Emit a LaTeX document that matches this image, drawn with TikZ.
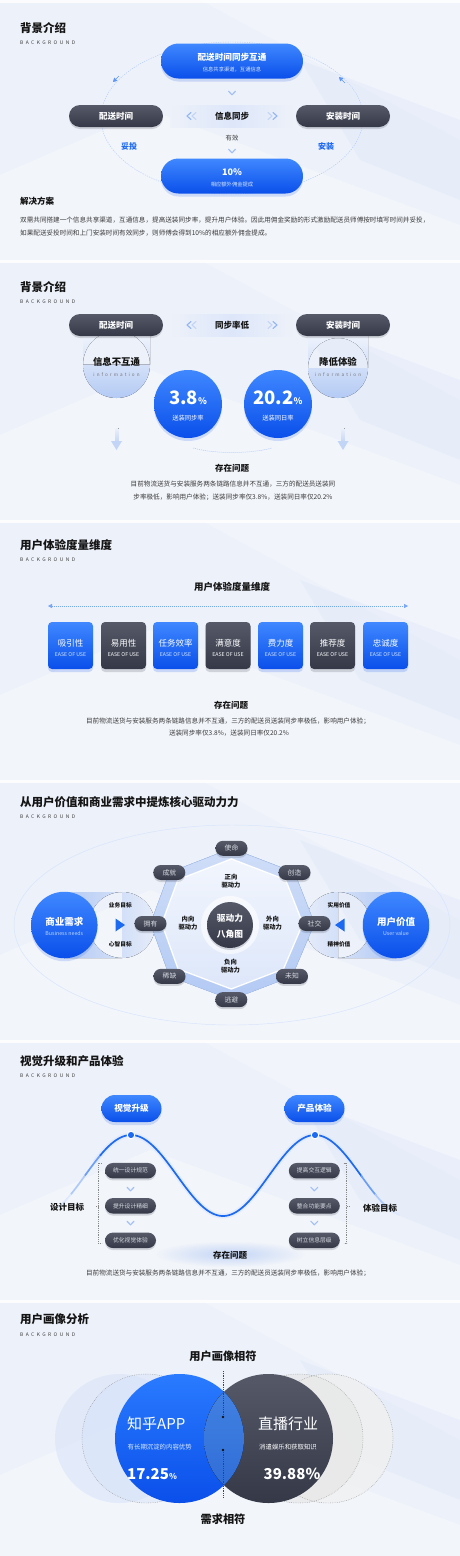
\documentclass[tikz,border=0pt]{standalone}
\usepackage{fontspec}
\setmainfont{Noto Sans CJK SC}
\usetikzlibrary{arrows.meta,shadows,calc,fadings}
\tikzfading[name=myglow, inner color=transparent!0, outer color=transparent!100]
\definecolor{bgc}{HTML}{EDF1F9}
\definecolor{bgw}{HTML}{F4F7FD}
\definecolor{blueA}{HTML}{3F88FF}
\definecolor{blueB}{HTML}{0A4FEA}
\definecolor{blueC}{HTML}{2A7BFF}
\definecolor{darkA}{HTML}{555968}
\definecolor{darkB}{HTML}{343847}
\definecolor{lightb}{HTML}{C3D5F6}
\definecolor{tabb}{HTML}{B3CAF4}
\definecolor{paleb}{HTML}{DDE7FA}
\definecolor{txt}{HTML}{141414}
\definecolor{gtxt}{HTML}{3A3A3A}
\definecolor{accent}{HTML}{1C69F2}
\definecolor{pilltxt}{HTML}{D8DBE3}
\definecolor{midA}{HTML}{4585E3}
\definecolor{midB}{HTML}{2D6AD6}
\newcommand\myfs[1]{\fontsize{#1}{#1}\selectfont}
\newcommand\mysectbg{%
  \fill[white,opacity=0.3] (0,175) -- (150,110) -- (460,225) -- (460,262) -- (0,262) -- cycle;
  \fill[white,opacity=0.25] (200,0) -- (460,0) -- (460,140) -- cycle;
  \fill[paleb,opacity=0.4] (300,60) -- (460,120) -- (460,200) -- (360,160) -- cycle;
  \fill[white,opacity=0.85] (0,0) rectangle (460,3);
}
\tikzset{
  bluepill/.style={rectangle, rounded corners=#1, top color=blueA, bottom color=blueB, draw=none, inner sep=0pt,
    drop shadow={opacity=0.16, shadow xshift=0pt, shadow yshift=-3pt, fill=blueB}},
  bluepill/.default=10,
  darkpill/.style={rectangle, rounded corners=#1, top color=darkA, bottom color=darkB, draw=none, inner sep=0pt,
    drop shadow={opacity=0.18, shadow xshift=0pt, shadow yshift=-2pt, fill=darkB}},
  darkpill/.default=8,
  bluedisc/.style={circle, top color=blueA, bottom color=blueB, draw=none, inner sep=0pt,
    drop shadow={opacity=0.16, shadow xshift=0pt, shadow yshift=-3pt, fill=blueB}},
  sTtl/.style={anchor=west, inner sep=0pt, text=txt, font=\myfs{11.5}\bfseries},
  sBg/.style={anchor=west, inner sep=0pt, text=gtxt, font=\myfs{4.9}\addfontfeatures{LetterSpace=50}},
  wtxt/.style={inner sep=0pt, text=white},
  sPara/.style={inner sep=0pt, text=gtxt, font=\myfs{6.6}},
  sHead/.style={inner sep=0pt, text=txt, font=\myfs{8.5}\bfseries},
  sLbl/.style={inner sep=0pt, text=txt, font=\myfs{5.7}\bfseries},
  sTwo/.style={inner sep=0pt, text=txt, align=center, font=\fontsize{6.3}{7.8}\selectfont\bfseries},
  downchev/.pic={\draw[lightb!80!accent, line width=1.1, line cap=round, line join=round] (-3.5,-1.8) -- (0,1.8) -- (3.5,-1.8);},
  leftchev/.pic={\draw[line width=1.1, line cap=round, line join=round] (2,-3.5) -- (-2,0) -- (2,3.5);},
  rightchev/.pic={\draw[line width=1.1, line cap=round, line join=round] (-2,-3.5) -- (2,0) -- (-2,3.5);},
}
\begin{document}
\begin{tikzpicture}[x=1pt,y=-1pt]
\useasboundingbox (0,0) rectangle (460,1556);
\fill[bgc] (0,0) rectangle (460,1556);
\foreach \oy in {0,260,520,780,1040,1300}{\begin{scope}[shift={(0,\oy)}]\mysectbg\end{scope}}

% ================= Section 1 =================
\node[sTtl] (t1) at (20,28) {背景介绍};
\node[sBg] (b1) at (20,42.5) {BACKGROUND};
\draw[accent!35, line width=0.45, dash pattern=on 1.2pt off 1.2pt] (232,118) ellipse [x radius=131, y radius=76];
\fill[left color=bgc, right color=bgc, middle color=paleb] (170,105) rectangle (294,127);
\pic[color=lightb!70!accent] at (189,116) {leftchev};
\pic[color=lightb] at (194,116) {leftchev};
\pic[color=lightb] at (270,116) {rightchev};
\pic[color=lightb!70!accent] at (275,116) {rightchev};
\node[sHead] (s1mid) at (232,116) {信息同步};
\node[bluepill=17.5, minimum width=142pt, minimum height=35pt] (p1) at (232,61) {};
\node[wtxt, font=\myfs{8.6}\bfseries] (p1a) at (232,57) {配送时间同步互通};
\node[wtxt, font=\myfs{5.3}, text=white!80!blueA] (p1b) at (232,70) {信息共享渠道，互通信息};
\pic at (232,93) {downchev};
\node[darkpill=11, minimum width=94pt, minimum height=22pt, text=white, font=\myfs{8.5}\bfseries] (d1l) at (116,116) {配送时间};
\node[darkpill=11, minimum width=94pt, minimum height=22pt, text=white, font=\myfs{8.5}\bfseries] (d1r) at (343,116) {安装时间};
\coordinate (al1) at (119,76); \coordinate (al2) at (113,82);
\draw[accent!70, -{Triangle[width=4.5pt,length=4pt]}] (al1) -- (al2);
\coordinate (ar1) at (345,83); \coordinate (ar2) at (339,77);
\draw[accent!70, -{Triangle[width=4.5pt,length=4pt]}] (ar1) -- (ar2);
\node[inner sep=0pt, text=gtxt, font=\myfs{6.3}] (yx) at (232,138) {有效};
\node[inner sep=0pt, text=accent, font=\myfs{8}\bfseries] (tt) at (129,146) {妥投};
\node[inner sep=0pt, text=accent, font=\myfs{8}\bfseries] (az) at (326,146) {安装};
\pic at (232,151) {downchev};
\node[bluepill=17.5, minimum width=142pt, minimum height=35pt] (p2) at (232,176) {};
\node[wtxt, font=\myfs{9}\bfseries] (p2a) at (232,172) {10\%};
\node[wtxt, font=\myfs{5.3}, text=white!80!blueA] (p2b) at (232,184.5) {相应额外佣金提成};
\node[sHead, anchor=west] (jj) at (20,201) {解决方案};
\node[sPara, anchor=west] (jp1) at (20,220) {双需共同搭建一个信息共享渠道，互通信息，提高送装同步率，提升用户体验。因此用佣金奖励的形式激励配送员师傅按时填写时间并妥投，};
\node[sPara, anchor=west] (jp2) at (20,233.5) {如果配送妥投时间和上门安装时间有效同步，则师傅会得到10\%的相应额外佣金提成。};

% ================= Section 2 =================
\node[sTtl] (t2) at (20,287) {背景介绍};
\node[sBg] (b2) at (20,302) {BACKGROUND};
\fill[top color=bgw, bottom color=tabb] (83,330) rectangle (150,364.5) (116.5,364.5) circle (33.5);
\fill[top color=bgw, bottom color=tabb] (308,330) rectangle (368,368) (338,368) circle (30);
\fill[left color=bgc, right color=bgc, middle color=paleb] (170,314) rectangle (294,336);
\pic[color=lightb!70!accent] at (189,325) {leftchev};
\pic[color=lightb] at (194,325) {leftchev};
\pic[color=lightb] at (270,325) {rightchev};
\pic[color=lightb!70!accent] at (275,325) {rightchev};
\node[sHead] (s2mid) at (232,325) {同步率低};
\node[darkpill=11, minimum width=94pt, minimum height=22pt, text=white, font=\myfs{8.5}\bfseries] (d2l) at (116,325) {配送时间};
\node[darkpill=11, minimum width=94pt, minimum height=22pt, text=white, font=\myfs{8.5}\bfseries] (d2r) at (343,325) {安装时间};
\node[inner sep=0pt, text=txt, font=\myfs{9.4}\bfseries] (x1) at (116.5,362) {信息不互通};
\node[inner sep=0pt, text=gtxt!70, font=\myfs{4.6}\addfontfeatures{LetterSpace=45}] (x1e) at (116.5,375) {information};
\node[inner sep=0pt, text=txt, font=\myfs{9.4}\bfseries] (x2) at (338,362) {降低体验};
\node[inner sep=0pt, text=gtxt!70, font=\myfs{4.6}\addfontfeatures{LetterSpace=45}] (x2e) at (338,375) {information};
\node[bluedisc, minimum size=68pt] (c1) at (188,404) {};
\node[bluedisc, minimum size=68pt] (c2) at (278,404) {};
\node[wtxt, font=\myfs{18.5}\bfseries] (c1a) at (188,398) {3.8\myfs{9}\%};
\node[wtxt, font=\myfs{6.3}] (c1b) at (188,418) {送装同步率};
\node[wtxt, font=\myfs{18.5}\bfseries] (c2a) at (278,398) {20.2\myfs{9}\%};
\node[wtxt, font=\myfs{6.3}] (c2b) at (278,418) {送装同日率};
\coordinate (dc1) at (193,448); \coordinate (dc2) at (272,448);
\draw[accent!40, line width=0.5, dash pattern=on 1pt off 1pt] (dc1) .. controls (215,454) and (250,454) .. (dc2);
\fill[top color=bgc, bottom color=lightb] (115,428) rectangle (118.5,442);
\fill[lightb] (111,441) -- (122,441) -- (116.5,450) -- cycle;
\fill[top color=bgc, bottom color=lightb] (341.2,428) rectangle (344.7,442);
\fill[lightb] (337.5,441) -- (348.5,441) -- (343,450) -- cycle;
\node[sHead] (q2) at (232,468) {存在问题};
\node[sPara] (q2a) at (233,484.5) {目前物流送货与安装服务两条链路信息并不互通，三方的配送员送装同};
\node[sPara] (q2b) at (233,497) {步率极低，影响用户体验；送装同步率仅3.8\%，送装同日率仅20.2\%};

% ================= Section 3 =================
\node[sTtl] (t3) at (20,545) {用户体验度量维度};
\node[sBg] (b3) at (20,560) {BACKGROUND};
\node[inner sep=0pt, text=txt, font=\myfs{9.5}\bfseries] (st3) at (232,586.5) {用户体验度量维度};
\coordinate (la) at (48,606); \coordinate (lb) at (408,606);
\draw[accent!60, line width=0.5, dash pattern=on 1pt off 1pt, {Triangle[width=4pt,length=4pt]}-{Triangle[width=4pt,length=4pt]}] (la) -- (lb);
\tikzset{boxb/.style={rectangle, rounded corners=4, minimum width=45pt, minimum height=47pt, inner sep=0pt, top color=blueA, bottom color=blueB, drop shadow={opacity=0.18, shadow xshift=0pt, shadow yshift=-3pt, fill=blueB}},
  boxd/.style={rectangle, rounded corners=4, minimum width=45pt, minimum height=47pt, inner sep=0pt, top color=darkA, bottom color=darkB, drop shadow={opacity=0.18, shadow xshift=0pt, shadow yshift=-3pt, fill=darkB}},
  boxl/.style={wtxt, font=\myfs{8.5}},
  boxe/.style={inner sep=0pt, text=white!78!blueA, font=\myfs{5.2}}}
\node[boxb] (bx1) at (70.5,645.5) {};
\node[boxd] (bx2) at (123.5,645.5) {};
\node[boxb] (bx3) at (175.5,645.5) {};
\node[boxd] (bx4) at (228,645.5) {};
\node[boxb] (bx5) at (280.5,645.5) {};
\node[boxd] (bx6) at (332.5,645.5) {};
\node[boxb] (bx7) at (385.5,645.5) {};
\node[boxl] (bl1) at (70.5,643) {吸引性};
\node[boxl] (bl2) at (123.5,643) {易用性};
\node[boxl] (bl3) at (175.5,643) {任务效率};
\node[boxl] (bl4) at (228,643) {满意度};
\node[boxl] (bl5) at (280.5,643) {费力度};
\node[boxl] (bl6) at (332.5,643) {推荐度};
\node[boxl] (bl7) at (385.5,643) {忠诚度};
\node[boxe] (be1) at (70.5,654.5) {EASE OF USE};
\node[boxe, text=white!75] (be2) at (123.5,654.5) {EASE OF USE};
\node[boxe] (be3) at (175.5,654.5) {EASE OF USE};
\node[boxe, text=white!75] (be4) at (228,654.5) {EASE OF USE};
\node[boxe] (be5) at (280.5,654.5) {EASE OF USE};
\node[boxe, text=white!75] (be6) at (332.5,654.5) {EASE OF USE};
\node[boxe] (be7) at (385.5,654.5) {EASE OF USE};
\node[sHead] (q3) at (231,705.5) {存在问题};
\node[sPara] (q3a) at (228,721.7) {目前物流送货与安装服务两条链路信息并不互通，三方的配送员送装同步率极低，影响用户体验；};
\node[sPara] (q3b) at (229,733.5) {送装同步率仅3.8\%，送装同日率仅20.2\%};

% ================= Section 4 =================
\node[sTtl] (t4) at (20,802.5) {从用户价值和商业需求中提炼核心驱动力力};
\node[sBg] (b4) at (20,817) {BACKGROUND};
\draw[accent!18, line width=0.45] (232,925) ellipse [x radius=218, y radius=100];
\coordinate (oc) at (231,924);
\coordinate (o1) at (231.5,848.3);
\coordinate (o2) at (294.5,872.5);
\coordinate (o3) at (314.5,923.5);
\coordinate (o4) at (292,976.3);
\coordinate (o5) at (231.3,999.6);
\coordinate (o6) at (169.5,976.3);
\coordinate (o7) at (150.5,923.5);
\coordinate (o8) at (169.3,872.5);
\foreach \k in {1,...,8}{\coordinate (i\k) at ($(oc)!0.86!(o\k)$);}
\fill[left color=tabb, right color=paleb!50!bgc] (64,892) rectangle (122,958) (122,925) circle (33);
\fill[right color=tabb, left color=paleb!50!bgc] (338,892) rectangle (396,958) (338,925) circle (33);
\fill[top color=lightb!80, bottom color=tabb] (o1) -- (o2) -- (o3) -- (o4) -- (o5) -- (o6) -- (o7) -- (o8) -- cycle;
\draw[accent!35, line width=0.5] (o1) -- (o2) -- (o3) -- (o4) -- (o5) -- (o6) -- (o7) -- (o8) -- cycle;
\fill[top color=paleb!40!white, bottom color=paleb] (i1) -- (i2) -- (i3) -- (i4) -- (i5) -- (i6) -- (i7) -- (i8) -- cycle;
\draw[white, line width=1.3] (i1) -- (i2) -- (i3) -- (i4) -- (i5) -- (i6) -- (i7) -- (i8) -- cycle;
\fill[white, opacity=0.6] (230,925) circle (29);
\tikzset{octp/.style={darkpill=7.5, minimum width=32pt, minimum height=15pt, text=pilltxt, font=\myfs{6.8}}}
\node[octp] (pv1) at (o1) {使命};
\node[octp] (pv2) at (o2) {创造};
\node[octp] (pv3) at (o3) {社交};
\node[octp] (pv4) at (o4) {未知};
\node[octp] (pv5) at (o5) {逃避};
\node[octp] (pv6) at (o6) {稀缺};
\node[octp] (pv7) at (o7) {拥有};
\node[octp] (pv8) at (o8) {成就};
\node[circle, minimum size=46pt, inner sep=0pt, top color=darkA, bottom color=darkB, drop shadow={opacity=0.2, shadow xshift=0pt, shadow yshift=-2pt, fill=darkB}] (core) at (230,925) {};
\node[wtxt, font=\myfs{8.7}\bfseries] (core1) at (230,918.5) {驱动力};
\node[wtxt, font=\myfs{8.7}\bfseries] (core2) at (230,934) {八角图};
\node[sTwo] (lz) at (231,881.3) {正向\\驱动力};
\node[sTwo] (ln) at (188,923) {内向\\驱动力};
\node[sTwo] (lw) at (272.5,923) {外向\\驱动力};
\node[sTwo] (lf) at (230.5,966) {负向\\驱动力};
\node[bluedisc, minimum size=66.5pt] (sy) at (64.3,925) {};
\node[wtxt, font=\myfs{9.5}\bfseries] (sya) at (64.3,921.7) {商业需求};
\node[inner sep=0pt, text=white!65!blueA, font=\myfs{5.3}] (syb) at (64.3,933.5) {Business needs};
\node[bluedisc, minimum size=66.5pt] (yh) at (396,925) {};
\node[wtxt, font=\myfs{9.5}\bfseries] (yha) at (396,921.7) {用户价值};
\node[inner sep=0pt, text=white!65!blueA, font=\myfs{5.3}] (yhb) at (396,933.5) {User value};
\node[sLbl] (lg1) at (120.3,905) {业务目标};
\node[sLbl] (lg2) at (120.3,944) {心智目标};
\fill[accent] (115.5,918.5) -- (125,925) -- (115.5,931.5) -- cycle;
\node[sLbl] (rg1) at (339,905) {实用价值};
\node[sLbl] (rg2) at (339,944) {精神价值};
\fill[accent] (344.5,918.5) -- (335,925) -- (344.5,931.5) -- cycle;

% ================= Section 5 =================
\node[sTtl] (t5) at (20,1061) {视觉升级和产品体验};
\node[sBg] (b5) at (20,1076) {BACKGROUND};
\fill[lightb, path fading=myglow] (230,1254) ellipse [x radius=75, y radius=13];
\def\wave{1175.5-40.5*cos((\x-131)*1.95652)}
\draw[lightb!60, line width=5, opacity=0.6] plot[domain=95:352, samples=120, smooth] (\x, {\wave});
\draw[accent!15, line width=1.7] plot[domain=58:72, samples=12, smooth] (\x, {\wave});
\draw[accent!35, line width=1.7] plot[domain=71:86, samples=12, smooth] (\x, {\wave});
\draw[accent!65, line width=1.7] plot[domain=85:101, samples=12, smooth] (\x, {\wave});
\draw[accent, line width=1.7] plot[domain=100:362, samples=150, smooth] (\x, {\wave});
\draw[accent!65, line width=1.7] plot[domain=361:376, samples=12, smooth] (\x, {\wave});
\draw[accent!35, line width=1.7] plot[domain=375:389, samples=12, smooth] (\x, {\wave});
\draw[accent!15, line width=1.7] plot[domain=388:400, samples=12, smooth] (\x, {\wave});
\node[circle, fill=accent, draw=white, line width=1, minimum size=7.5pt, inner sep=0pt] (pk1) at (131,1135) {};
\node[circle, fill=accent, draw=white, line width=1, minimum size=7.5pt, inner sep=0pt] (pk2) at (315,1135) {};
\node[bluepill=13.5, minimum width=60pt, minimum height=27pt, text=white, font=\myfs{8.6}\bfseries] (vp1) at (131.5,1108.5) {视觉升级};
\node[bluepill=13.5, minimum width=60pt, minimum height=27pt, text=white, font=\myfs{8.6}\bfseries] (vp2) at (314.5,1108.5) {产品体验};
\tikzset{smp/.style={darkpill=8, minimum width=51pt, minimum height=15.5pt, text=pilltxt, font=\myfs{5.8}}}
\node[smp] (l1) at (130.5,1170.7) {统一设计规范};
\node[smp] (l2) at (130.5,1205.8) {提升设计精细};
\node[smp] (l3) at (130.5,1240.3) {优化视觉体验};
\node[smp] (r1) at (314.3,1170.7) {提高交互逻辑};
\node[smp] (r2) at (314.3,1205.8) {整合功能要点};
\node[smp] (r3) at (314.3,1240.3) {树立信息层级};
\pic at (130.5,1189) {downchev};
\pic at (130.5,1223) {downchev};
\pic at (314.3,1189) {downchev};
\pic at (314.3,1223) {downchev};
\tikzset{brk/.style={gtxt!60, line width=0.5, dash pattern=on 0.6pt off 1.2pt}}
\draw[brk] (101.5,1163) -- (98.3,1163) -- (98.3,1243) -- (101.5,1243);
\draw[brk] (98.3,1205.8) -- (95,1205.8);
\draw[brk] (343.5,1163) -- (346.7,1163) -- (346.7,1243) -- (343.5,1243);
\draw[brk] (346.7,1205.8) -- (350,1205.8);
\node[sHead] (g1) at (67,1207.7) {设计目标};
\node[sHead] (g2) at (380,1207.7) {体验目标};
\node[sHead] (q5) at (230,1255.5) {存在问题};
\node[sPara] (q5a) at (228,1273.7) {目前物流送货与安装服务两条链路信息并不互通，三方的配送员送装同步率极低，影响用户体验；};

% ================= Section 6 =================
\node[sTtl] (t6) at (20,1319.5) {用户画像分析};
\node[sBg] (b6) at (20,1335) {BACKGROUND};
\fill[paleb, opacity=0.7] (119.5,1438.5) circle (64.5);
\fill[lightb!70, opacity=0.45] (146.5,1438.5) circle (64.5);
\draw[gtxt!55, line width=0.45, dash pattern=on 0.6pt off 1.2pt] (146.5,1438.5) circle (64.5);
\fill[gray!12, opacity=0.8] (328.5,1438.5) circle (64.5);
\fill[gray!20, opacity=0.6] (298.5,1438.5) circle (64.5);
\draw[gtxt!55, line width=0.45, dash pattern=on 0.6pt off 1.2pt] (298.5,1438.5) circle (64.5);
\draw[gtxt!55, line width=0.45, dash pattern=on 0.6pt off 1.2pt] (328.5,1438.5) circle (64.5);
\node[circle, minimum size=129pt, inner sep=0pt, top color=blueC, bottom color=blueB] (cz) at (179.5,1438.5) {};
\node[circle, minimum size=129pt, inner sep=0pt, top color=darkA, bottom color=darkB] (cd) at (268.5,1438.5) {};
\begin{scope}
\clip (179.5,1438.5) circle (64.5);
\fill[top color=midA, bottom color=midB] (268.5,1438.5) circle (64.5);
\end{scope}
\node[inner sep=0pt, text=txt, font=\myfs{11.2}\bfseries] (ux) at (223,1356.7) {用户画像相符};
\coordinate (vt) at (223,1371);
\coordinate (vd1) at (223,1417);
\coordinate (vd2) at (223,1450);
\coordinate (vb) at (223,1497);
\draw[txt!80, line width=0.45, dash pattern=on 0.8pt off 1pt] (vt) -- (vd1);
\draw[txt!80, line width=0.45, dash pattern=on 0.8pt off 1pt] (vd2) -- (vb);
\fill[txt] (vd1) circle (1.3);
\fill[txt] (vd2) circle (1.3);
\node[wtxt, anchor=west, font=\myfs{15}] (za) at (127,1423.5) {知乎APP};
\node[inner sep=0pt, anchor=west, text=white!82!blueA, font=\myfs{6.4}] (zb) at (127.5,1446.7) {有长期沉淀的内容优势};
\node[wtxt, anchor=west, font=\myfs{15}\bfseries] (zc) at (127,1474) {17.25\myfs{8}\%};
\node[wtxt, anchor=west, font=\myfs{15}] (da) at (258,1423.5) {直播行业};
\node[inner sep=0pt, anchor=west, text=white!80, font=\myfs{6.4}] (db) at (259,1446.7) {消遣娱乐和获取知识};
\node[wtxt, anchor=east, font=\myfs{15}\bfseries] (dcx) at (320.5,1474) {39.88\%};
\node[inner sep=0pt, text=txt, font=\myfs{11.2}\bfseries] (xq) at (223,1519.5) {需求相符};
\end{tikzpicture}
\end{document}
